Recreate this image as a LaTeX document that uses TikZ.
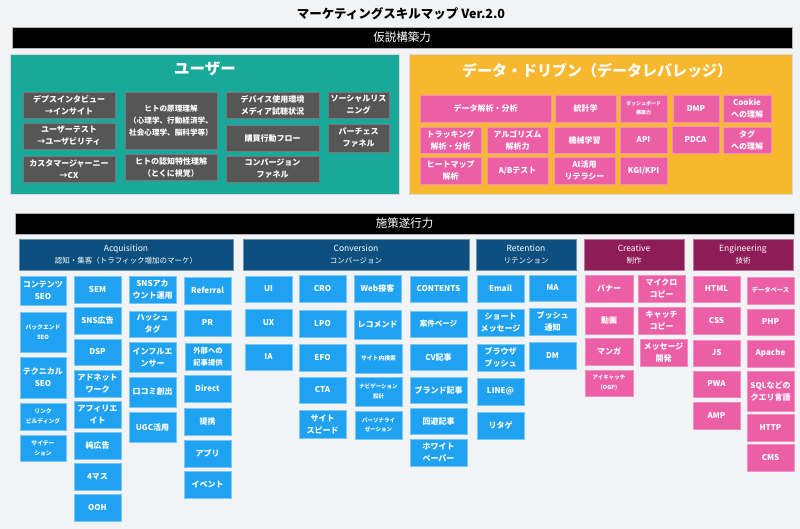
\documentclass[tikz,border=0pt]{standalone}
\usepackage{fontspec}
\setmainfont{Noto Sans CJK JP}
\definecolor{bgc}{HTML}{F2F3F5}
\definecolor{tealc}{HTML}{19A99A}
\definecolor{yelc}{HTML}{F7B82F}
\definecolor{pinkc}{HTML}{EC5FA6}
\definecolor{grayc}{HTML}{565656}
\definecolor{navyc}{HTML}{0D4F7E}
\definecolor{plumc}{HTML}{8E1C57}
\definecolor{bluec}{HTML}{1FA2F2}
\newcommand\bx[7]{\node[#6, minimum width={(#4-#2)*1pt}, minimum height={(#5-#3)*1pt}] (#1) at ({(#2+#4)/2},{-(#3+#5)/2}) {#7};}
\newcommand\subsz{\fontsize{7.5}{12}\selectfont}
\tikzset{
  basebox/.style={inner sep=0pt, align=center, text=white, font=\bfseries\fontsize{8}{12}\selectfont},
  fs/.style 2 args={font=\bfseries\fontsize{#1}{#2}\selectfont},
  graybox/.style={basebox, fill=grayc, draw=grayc!80!white, line width=0.5pt},
  pinkbox/.style={basebox, fill=pinkc, draw=pinkc!70!white, line width=0.5pt},
  bluebox/.style={basebox, fill=bluec, draw=bluec!60!white, line width=0.5pt},
  hdrbox/.style={inner sep=0pt, align=center, text=white, font=\fontsize{8.5}{12.5}\selectfont, fill=navyc, draw=navyc!60!white, line width=0.5pt},
  plumhdr/.style={hdrbox, fill=plumc, draw=plumc!60!white},
  barbox/.style={inner sep=0pt, fill=black, draw=gray!60, line width=0.8pt, text=white, font=\fontsize{11.5}{14}\selectfont},
  panel/.style={inner sep=0pt, draw=white!85!black, line width=0.5pt},
}
\begin{document}
\begin{tikzpicture}[x=1pt,y=1pt]
\useasboundingbox (0,0) rectangle (800,-529);
\fill[bgc] (0,0) rectangle (800,-529);
\node[font=\bfseries\fontsize{12.5}{15}\selectfont] (title) at (401,-14) {マーケティングスキルマップ Ver.2.0};
\bx{bar1}{12}{27}{792}{48}{barbox}{仮説構築力}
% panels
\bx{userpanel}{10}{54}{399}{194}{panel, fill=tealc}{}
\node[text=white, font=\bfseries\fontsize{15.5}{18}\selectfont] (usertitle) at (205,-69) {ユーザー};
\bx{datapanel}{409}{54}{792}{194}{panel, fill=yelc}{}
\node[text=white, font=\bfseries\fontsize{15}{18}\selectfont] (datatitle) at (597,-71) {データ・ドリブン（データレバレッジ）};
% user boxes
\bx{u1}{23}{92}{115}{118}{graybox}{デプスインタビュー\\→インサイト}
\bx{u2}{23}{123}{115}{149}{graybox}{ユーザーテスト\\→ユーザビリティ}
\bx{u3}{23}{156}{115}{182}{graybox}{カスタマージャーニー\\→CX}
\bx{u4}{125}{92}{217}{149}{graybox, fs={7.6}{12}}{ヒトの原理理解\\（心理学、行動経済学、\\社会心理学、脳科学等）}
\bx{u5}{125}{154}{217}{180}{graybox}{ヒトの認知特性理解\\（とくに視覚）}
\bx{u6}{226}{92}{319}{118}{graybox}{デバイス使用環境\\メディア試聴状況}
\bx{u7}{226}{125}{319}{151}{graybox}{購買行動フロー}
\bx{u8}{226}{156}{319}{182}{graybox}{コンバージョン\\ファネル}
\bx{u9}{328}{92}{389}{118}{graybox}{ソーシャルリス\\ニング}
\bx{u10}{328}{124}{389}{152}{graybox}{パーチェス\\ファネル}
% data boxes
\bx{d1}{420}{95}{551}{122}{pinkbox}{データ解析・分析}
\bx{d2}{555}{95}{616}{122}{pinkbox}{統計学}
\bx{d3}{620}{95}{667}{122}{pinkbox, fs={5}{9}}{ダッシュボード\\構築力}
\bx{d4}{673}{95}{719}{122}{pinkbox}{DMP}
\bx{d5}{723}{95}{771}{122}{pinkbox}{Cookie\\への理解}
\bx{d6}{420}{127}{481}{153}{pinkbox}{トラッキング\\解析・分析}
\bx{d7}{487}{127}{548}{153}{pinkbox}{アルゴリズム\\解析力}
\bx{d8}{554}{127}{615}{153}{pinkbox}{機械学習}
\bx{d9}{620}{127}{667}{153}{pinkbox}{API}
\bx{d10}{672}{126}{719}{153}{pinkbox}{PDCA}
\bx{d11}{723}{127}{771}{153}{pinkbox}{タグ\\への理解}
\bx{d12}{420}{157}{481}{184}{pinkbox}{ヒートマップ\\解析}
\bx{d13}{487}{157}{548}{184}{pinkbox}{A/Bテスト}
\bx{d14}{554}{157}{615}{184}{pinkbox}{AI活用\\リテラシー}
\bx{d15}{620}{157}{667}{184}{pinkbox}{KGI/KPI}
% bar 2
\bx{bar2}{15}{213}{794}{234}{barbox}{施策遂行力}
% headers
\bx{h1}{19}{239}{233}{270}{hdrbox}{Acquisition\\\subsz 認知・集客（トラフィック増加のマーケ）}
\bx{h2}{243}{239}{469}{270}{hdrbox}{Conversion\\\subsz コンバージョン}
\bx{h3}{476}{239}{576}{270}{hdrbox}{Retention\\\subsz リテンション}
\bx{h4}{584}{239}{684}{270}{plumhdr}{Creative\\\subsz 制作}
\bx{h5}{693}{239}{793}{270}{plumhdr}{Engineering\\\subsz 技術}
% acquisition
\bx{a1}{20}{276}{66}{305}{bluebox}{コンテンツ\\SEO}
\bx{a2}{20}{312}{66}{352}{bluebox, fs={5.8}{10}}{バックエンド\\SEO}
\bx{a3}{20}{357}{66}{398}{bluebox}{テクニカル\\SEO}
\bx{a4}{20}{403}{66}{430}{bluebox, fs={5.8}{10}}{リンク\\ビルディング}
\bx{a5}{20}{435}{66}{461}{bluebox, fs={5.8}{10}}{サイテー\\ション}
\bx{a6}{74}{276}{121}{303}{bluebox}{SEM}
\bx{a7}{74}{307}{121}{334}{bluebox}{SNS広告}
\bx{a8}{74}{339}{121}{365}{bluebox}{DSP}
\bx{a9}{74}{370}{121}{397}{bluebox}{アドネット\\ワーク}
\bx{a10}{74}{401}{121}{428}{bluebox}{アフィリエ\\イト}
\bx{a11}{74}{432}{121}{459}{bluebox}{純広告}
\bx{a12}{74}{463}{121}{490}{bluebox}{4マス}
\bx{a13}{74}{494}{121}{521}{bluebox}{OOH}
\bx{a14}{129}{276}{176}{303}{bluebox}{SNSアカ\\ウント運用}
\bx{a15}{129}{311}{176}{337}{bluebox}{ハッシュ\\タグ}
\bx{a16}{129}{342}{176}{372}{bluebox}{インフルエ\\ンサー}
\bx{a17}{129}{377}{176}{407}{bluebox}{口コミ創出}
\bx{a18}{129}{412}{176}{442}{bluebox}{UGC活用}
\bx{a19}{184}{277}{231}{304}{bluebox}{Referral}
\bx{a20}{184}{310}{231}{336}{bluebox}{PR}
\bx{a21}{185}{343}{231}{370}{bluebox, fs={7.3}{11.5}}{外部への\\記事提供}
\bx{a22}{184}{375}{231}{402}{bluebox}{Direct}
\bx{a23}{184}{408}{231}{435}{bluebox}{提携}
\bx{a24}{184}{440}{231}{467}{bluebox}{アプリ}
\bx{a25}{184}{471}{231}{498}{bluebox}{イベント}
% conversion
\bx{c1}{245}{276}{292}{302}{bluebox}{UI}
\bx{c2}{245}{309}{292}{336}{bluebox}{UX}
\bx{c3}{245}{344}{292}{370}{bluebox}{IA}
\bx{c4}{299}{275}{346}{302}{bluebox}{CRO}
\bx{c5}{299}{310}{346}{337}{bluebox}{LPO}
\bx{c6}{299}{344}{346}{371}{bluebox}{EFO}
\bx{c7}{299}{377}{346}{403}{bluebox}{CTA}
\bx{c8}{299}{410}{346}{438}{bluebox}{サイト\\スピード}
\bx{c9}{354}{275}{401}{302}{bluebox}{Web接客}
\bx{c10}{354}{310}{401}{339}{bluebox}{レコメンド}
\bx{c11}{355}{344}{402}{373}{bluebox, fs={5.8}{10}}{サイト内検索}
\bx{c12}{355}{377}{402}{406}{bluebox, fs={5.5}{9.5}}{ナビゲーション\\設計}
\bx{c13}{355}{411}{402}{439}{bluebox, fs={5.5}{9.5}}{パーソナライ\\ゼーション}
\bx{c14}{410}{276}{467}{302}{bluebox}{CONTENTS}
\bx{c15}{410}{311}{467}{337}{bluebox, fs={7.5}{12}}{案件ページ}
\bx{c16}{410}{344}{467}{370}{bluebox}{CV記事}
\bx{c17}{410}{377}{467}{403}{bluebox}{ブランド記事}
\bx{c18}{410}{408}{467}{434}{bluebox}{回遊記事}
\bx{c19}{410}{439}{467}{466}{bluebox}{ホワイト\\ペーパー}
% retention
\bx{r1}{477}{275}{524}{302}{bluebox}{Email}
\bx{r2}{477}{309}{524}{336}{bluebox}{ショート\\メッセージ}
\bx{r3}{477}{344}{524}{371}{bluebox}{ブラウザ\\プッシュ}
\bx{r4}{477}{378}{524}{405}{bluebox}{LINE@}
\bx{r5}{477}{412}{524}{439}{bluebox}{リタゲ}
\bx{r6}{529}{275}{576}{301}{bluebox}{MA}
\bx{r7}{529}{308}{576}{335}{bluebox}{プッシュ\\通知}
\bx{r8}{529}{342}{576}{369}{bluebox}{DM}
% creative
\bx{k1}{585}{275}{633}{302}{pinkbox}{バナー}
\bx{k2}{585}{307}{633}{334}{pinkbox}{動画}
\bx{k3}{585}{338}{633}{365}{pinkbox}{マンガ}
\bx{k4}{585}{370}{633}{396}{pinkbox, fs={5.5}{9.5}}{アイキャッチ\\(OGP)}
\bx{k5}{638}{275}{685}{302}{pinkbox}{マイクロ\\コピー}
\bx{k6}{638}{307}{685}{334}{pinkbox}{キャッチ\\コピー}
\bx{k7}{640}{339}{687}{366}{pinkbox}{メッセージ\\開発}
% engineering
\bx{e1}{693}{276}{740}{302}{pinkbox}{HTML}
\bx{e2}{693}{307}{740}{334}{pinkbox}{CSS}
\bx{e3}{693}{340}{740}{366}{pinkbox}{JS}
\bx{e4}{693}{371}{740}{397}{pinkbox}{PWA}
\bx{e5}{693}{402}{740}{429}{pinkbox}{AMP}
\bx{e6}{747}{277}{794}{304}{pinkbox, fs={6.3}{10}}{データベース}
\bx{e7}{747}{309}{794}{335}{pinkbox}{PHP}
\bx{e8}{747}{340}{794}{367}{pinkbox}{Apache}
\bx{e9}{747}{371}{794}{411}{pinkbox}{SQLなどの\\クエリ言語}
\bx{e10}{747}{414}{794}{441}{pinkbox}{HTTP}
\bx{e11}{747}{444}{794}{471}{pinkbox}{CMS}
\end{tikzpicture}
\end{document}
